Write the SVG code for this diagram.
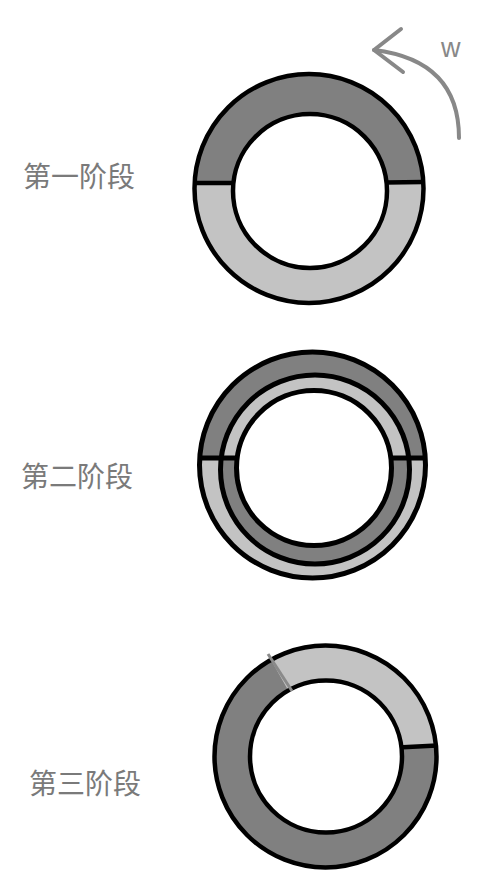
<svg xmlns="http://www.w3.org/2000/svg" width="487" height="894" viewBox="0 0 487 894">
<style>
.dark{fill:#808080;}
.light{fill:#c3c3c3;}
.hole{fill:#ffffff;stroke:#000;stroke-width:4.5;}
.ol{fill:none;stroke:#000;stroke-width:4.5;}
.div{stroke:#000;stroke-width:4.5;}
.lbl{font-family:"Noto Sans CJK SC","Noto Sans",sans-serif;font-size:28px;fill:#7a7a7a;}
.arr{fill:none;stroke:#888;stroke-width:4;stroke-linecap:round;stroke-linejoin:round;}
</style>
<rect width="487" height="894" fill="#fff"/>

<g id="stage1">
  <circle class="light" cx="309" cy="188.5" r="114.5"/>
  <path class="dark" d="M194.6,183 A114.5,114.5 0 0 1 423.4,183 Z"/>
  <circle class="hole" cx="310" cy="191" r="77"/>
  <circle class="ol" cx="309" cy="188.5" r="114.5"/>
  <line class="div" x1="195" y1="183" x2="234" y2="183"/>
  <line class="div" x1="386" y1="182.5" x2="423" y2="182"/>
  <text class="lbl" x="23" y="187">第一阶段</text>
</g>

<g id="stage2">
  <circle class="light" cx="312.5" cy="465" r="113"/>
  <path class="dark" d="M199.7,458 A113,113 0 0 1 425.3,458 Z"/>
  <circle class="dark" cx="315" cy="469.5" r="94.5"/>
  <path class="light" d="M221.2,458 A94.5,94.5 0 0 1 408.8,458 Z"/>
  <circle class="hole" cx="314" cy="468" r="77.5" style="stroke-width:5"/>
  <circle class="ol" cx="315" cy="469.5" r="94.5" style="stroke-width:5"/>
  <circle class="ol" cx="312.5" cy="465" r="113" style="stroke-width:5"/>
  <line class="div" x1="199" y1="458" x2="237" y2="458" style="stroke-width:5"/>
  <line class="div" x1="391" y1="458" x2="426" y2="458" style="stroke-width:5"/>
  <text class="lbl" x="21" y="487">第二阶段</text>
</g>

<g id="stage3">
  <circle class="dark" cx="325.5" cy="756.5" r="111"/>
  <path class="light" d="M436,746 A111,111 0 0 0 271,660 L288.3,690.4 A76,76 0 0 1 401.4,747 Z"/>
  <circle class="hole" cx="326" cy="756.5" r="76"/>
  <circle class="ol" cx="325.5" cy="756.5" r="111"/>
  <line x1="268" y1="654" x2="292" y2="691" stroke="#8a8a8a" stroke-width="3"/>
  <line class="div" x1="403" y1="747.3" x2="437" y2="745.5"/>
  <text class="lbl" x="29" y="794">第三阶段</text>
</g>

<g id="connectors">
  <path class="arr" d="M459,138 C459,95 440,58 374,50"/>
  <polyline class="arr" points="401,29 374,50 403,72"/>
  <text x="441" y="57" font-family="Liberation Sans, Arial, sans-serif" font-size="27" fill="#888">w</text>
</g>
</svg>
